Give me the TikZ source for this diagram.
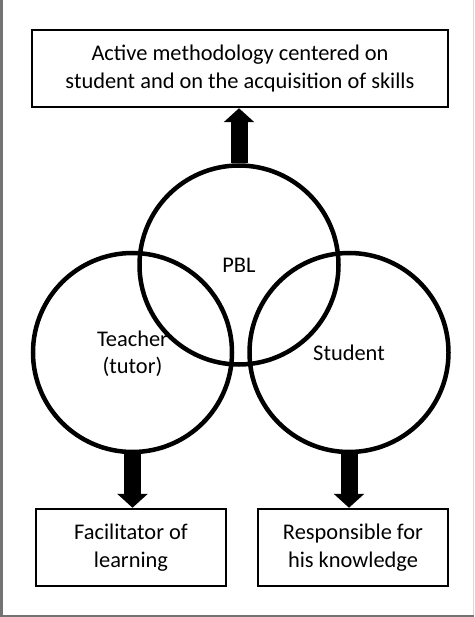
\documentclass[tikz,border=0pt]{standalone}
\usepackage{fontspec}
\setmainfont{Carlito}
\usetikzlibrary{positioning}
\usetikzlibrary{arrows.meta}

\begin{document}
\begin{tikzpicture}[x=1pt, y=-1pt,
  font=\fontsize{22.4}{27.3}\selectfont,
  textbox/.style={draw, line width=2.5pt, align=center, minimum height=77pt, inner sep=0pt},
  ring/.style={draw, circle, line width=4.5pt, minimum size=199pt, inner sep=0pt, align=center, text depth=0pt},
  blockarrow/.style={line width=17pt, -{Triangle[width=30pt, length=14pt]}}]

\useasboundingbox (0,0) rectangle (474,617);

% frame of the figure
\draw[black!55, line width=2.5pt] (1.25,0)--(1.25,615.75)--(474,615.75);
\draw[black!15, line width=1pt] (473.5,0)--(473.5,614.5);

% circles
\node[ring] (pbl) at (239,265) {PBL};
\node[ring] (teacher) at (132.5,352.5) {Teacher\\(tutor)};
\node[ring] (student) at (349,352.5) {Student};

% boxes
\node[textbox, minimum width=416pt] (method) at (240,68.5) {Active methodology centered on\\student and on the acquisition of skills};
\node[textbox, minimum width=190pt] (facil) at (131,547.5) {Facilitator of\\learning};
\node[textbox, minimum width=190pt] (resp) at (353,547.5) {Responsible for\\his knowledge};

% arrows
\draw[blockarrow] (pbl.north)--(pbl.north |- method.south);
\draw[blockarrow] (teacher.south)--(teacher.south |- facil.north);
\draw[blockarrow] (student.south)--(student.south |- resp.north);

\end{tikzpicture}
\end{document}
